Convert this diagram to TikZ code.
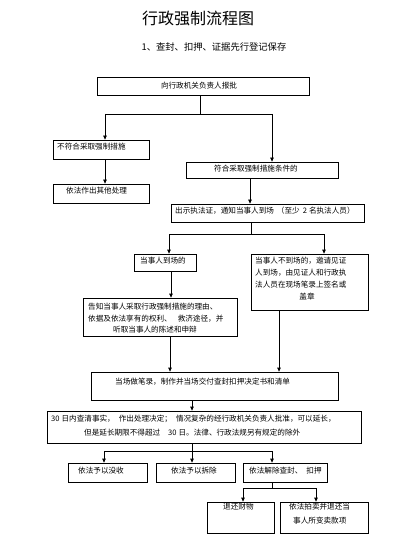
\documentclass[tikz,border=0pt]{standalone}
\usepackage{fontspec}
\setmainfont{Noto Sans CJK SC}
\usetikzlibrary{arrows.meta}
\begin{document}
\begin{tikzpicture}[x=1pt,y=-1pt,
  box/.style={draw, line width=0.8pt, inner sep=0pt},
  txt/.style={inner sep=0pt, font=\fontsize{7.6}{9}\selectfont, anchor=west},
  ctxt/.style={inner sep=0pt, font=\fontsize{7.6}{9}\selectfont, anchor=center},
  arr/.style={-{Triangle[length=4pt,width=3.6pt]}, line width=0.8pt},
  ln/.style={line width=0.8pt}]
\useasboundingbox (0,0) rectangle (414,545);
% titles
\node[inner sep=0pt, font=\fontsize{16}{18}\selectfont] (title) at (198,18) {行政强制流程图};
\node[inner sep=0pt, font=\fontsize{9.3}{11}\selectfont] (subtitle) at (214,47) {1、查封、扣押、证据先行登记保存};
% boxes
\node[box, minimum width=212pt, minimum height=18pt] (b1) at (203,86) {};
\node[box, minimum width=96pt, minimum height=19pt] (b2) at (101,149.5) {};
\node[box, minimum width=96pt, minimum height=19pt] (b3) at (101,193.5) {};
\node[box, minimum width=152pt, minimum height=16pt] (b4) at (262,170) {};
\node[box, minimum width=193pt, minimum height=18pt] (b5) at (267.5,213) {};
\node[box, minimum width=62pt, minimum height=17pt] (b6) at (165,262.5) {};
\node[box, minimum width=117pt, minimum height=56pt] (b7) at (309.5,282) {};
\node[box, minimum width=154pt, minimum height=38pt] (b8) at (160,317) {};
\node[box, minimum width=247pt, minimum height=28pt] (b9) at (214.5,386) {};
\node[box, minimum width=314pt, minimum height=32pt] (b10) at (204,427) {};
\node[box, minimum width=79pt, minimum height=19pt] (b11) at (107.5,472.5) {};
\node[box, minimum width=79pt, minimum height=19pt] (b12) at (195.5,472.5) {};
\node[box, minimum width=84pt, minimum height=19pt] (b13) at (285,472.5) {};
\node[box, minimum width=67pt, minimum height=31pt] (b14) at (240.5,517.5) {};
\node[box, minimum width=88pt, minimum height=31pt] (b15) at (324,517.5) {};
% texts
\node[ctxt] (t1) at (199,86) {向行政机关负责人报批};
\node[txt] (t2) at (57,147) {不符合采取强制措施};
\node[txt] (t3) at (66,191) {依法作出其他处理};
\node[ctxt] (t4) at (256,169) {符合采取强制措施条件的};
\node[txt] (t5) at (175,211) {出示执法证，通知当事人到场\hspace{3pt}（至少\hspace{3pt}2\hspace{2pt}名执法人员）};
\node[txt] (t6) at (140,261) {当事人到场的};
\node[txt] (t7a) at (255,261) {当事人不到场的，邀请见证};
\node[txt] (t7b) at (255,273) {人到场，由见证人和行政执};
\node[txt] (t7c) at (255,285) {法人员在现场笔录上签名或};
\node[ctxt] (t7d) at (307,297) {盖章};
\node[txt] (t8a) at (88,307) {告知当事人采取行政强制措施的理由、};
\node[txt] (t8b) at (88,319) {依据及依法享有的权利、\hspace{6pt}救济途径，并};
\node[ctxt] (t8c) at (155,330) {听取当事人的陈述和申辩};
\node[txt] (t9) at (115,382) {当场做笔录，制作并当场交付查封扣押决定书和清单};
\node[txt] (t10a) at (51,419) {30\hspace{2pt}日内查清事实，\hspace{4pt}作出处理决定；\hspace{4pt}情况复杂的经行政机关负责人批准，可以延长，};
\node[txt] (t10b) at (84,433) {但是延长期限不得超过\hspace{8pt}30\hspace{2pt}日。法律、行政法规另有规定的除外};
\node[txt] (t11) at (78,471) {依法予以没收};
\node[txt] (t12) at (171,471) {依法予以拆除};
\node[txt] (t13) at (249,471) {依法解除查封、\hspace{4pt}扣押};
\node[txt] (t14) at (223,507) {退还财物};
\node[txt] (t15a) at (289,507) {依法拍卖并退还当};
\node[txt] (t15b) at (293,521) {事人所变卖款项};
% junction coordinates
\coordinate (j1) at (200,114);
\coordinate (j1L) at (105,114);
\coordinate (j1R) at (272,114);
\coordinate (k1) at (250,190);
\coordinate (j2) at (251,234);
\coordinate (j2L) at (169,234);
\coordinate (j2R) at (324,234);
\coordinate (k2) at (171,285);
\coordinate (k3) at (170,350);
\coordinate (k4) at (279,350);
\coordinate (j3) at (192,451);
\coordinate (j3L) at (104,451);
\coordinate (j3R) at (272,451);
\coordinate (j4) at (272,488);
\coordinate (j4L) at (243,488);
\coordinate (j4R) at (316,488);
% connectors
\draw[ln] (j1 |- b1.south) -- (j1);
\draw[ln] (j1L) -- (j1R);
\draw[arr] (j1L) -- (j1L |- b2.north);
\draw[arr] (j1R) -- (j1R |- b4.north);
\draw[arr] (j1L |- b2.south) -- (j1L |- b3.north);
\draw[arr] (k1 |- b4.south) -- (k1 |- b5.north);
\draw[ln] (j2 |- b5.south) -- (j2);
\draw[ln] (j2L) -- (j2R);
\draw[arr] (j2L) -- (j2L |- b6.north);
\draw[arr] (j2R) -- (j2R |- b7.north);
\draw[arr] (k2 |- b6.south) -- (k2 |- b8.north);
\draw[arr] (k3 |- b8.south) -- (k3 |- b9.north);
\draw[arr] (k4 |- b7.south) -- (k4 |- b9.north);
\draw[arr] (j3 |- b9.south) -- (j3 |- b10.north);
\draw[ln] (j3 |- b10.south) -- (j3);
\draw[ln] (j3L) -- (j3R);
\draw[arr] (j3L) -- (j3L |- b11.north);
\draw[arr] (j3) -- (j3 |- b12.north);
\draw[arr] (j3R) -- (j3R |- b13.north);
\draw[ln] (j4 |- b13.south) -- (j4);
\draw[ln] (j4L) -- (j4R);
\draw[arr] (j4L) -- (j4L |- b14.north);
\draw[arr] (j4R) -- (j4R |- b15.north);
\end{tikzpicture}
\end{document}
